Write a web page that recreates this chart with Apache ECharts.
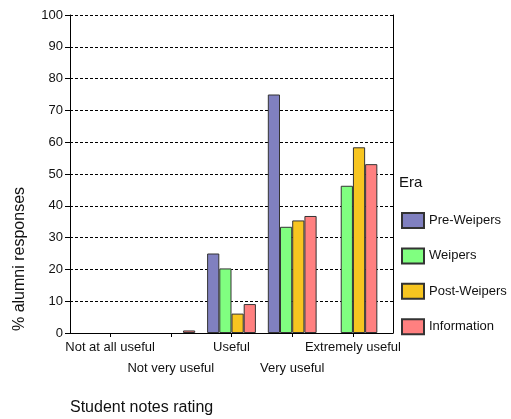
<!DOCTYPE html>
<html>
<head>
<meta charset="utf-8">
<script src="https://cdn.jsdelivr.net/npm/echarts@6/dist/echarts.min.js"></script>
<style>html,body{margin:0;padding:0;background:#fff}#c{width:511px;height:419px}</style>
</head>
<body>
<div id="c"></div>
<script>
const categories = ['Not at all useful', 'Not very useful', 'Useful', 'Very useful', 'Extremely useful'];
const seriesNames = ['Pre-Weipers', 'Weipers', 'Post-Weipers', 'Information'];
const preWeipers = [0, 0, 25, 75, 0];
const weipers = [0, 0, 20.3, 33.4, 46.3];
const postWeipers = [0, 0, 6.1, 35.4, 58.4];
const information = [0, 0.8, 9.1, 36.8, 53.1];
const yTicks = [0, 10, 20, 30, 40, 50, 60, 70, 80, 90, 100];
const colors = ['#8080c0', '#80ff80', '#f7c520', '#ff8080'];

const FONT = 'Liberation Sans, Arial, sans-serif';
const positions = categories.map((c, i) => i + 1);
const oddPositions = positions.filter((p, i) => i % 2 === 0);
const evenPositions = positions.filter((p, i) => i % 2 === 1);
const allValues = [preWeipers, weipers, postWeipers, information];

function xAxisFor(values, margin, showLine) {
  return {
    type: 'value', min: 0.34, max: 5.66, position: 'bottom',
    axisLine: {show: showLine, lineStyle: {color: '#000', width: 1}},
    splitLine: {show: false},
    axisTick: {show: showLine, customValues: positions, length: 4, inside: false, lineStyle: {color: '#000'}},
    axisLabel: {
      customValues: values, margin: margin, fontSize: 13, color: '#111', fontFamily: FONT,
      hideOverlap: false,
      formatter: v => categories[Math.round(v) - 1]
    }
  };
}

const chart = echarts.init(document.getElementById('c'), null, {renderer: 'canvas'});
chart.setOption({
  animation: false,
  backgroundColor: '#fff',
  textStyle: {fontFamily: FONT},
  grid: {left: 70, right: 118, top: 15, bottom: 86},
  title: {
    text: 'Era', left: 399, top: 175, padding: 0,
    textStyle: {fontSize: 15, fontWeight: 'normal', color: '#111', fontFamily: FONT}
  },
  legend: {
    orient: 'vertical', left: 401, top: 212, padding: 0,
    itemWidth: 22, itemHeight: 15, itemGap: 18.4, icon: 'rect',
    textStyle: {fontSize: 13, color: '#111', fontFamily: FONT},
    data: seriesNames
  },
  xAxis: [xAxisFor(oddPositions, 7.5, true), xAxisFor(evenPositions, 28.5, false)],
  yAxis: [{
    type: 'value', min: yTicks[0], max: yTicks[yTicks.length - 1], interval: 10,
    axisLine: {show: true, lineStyle: {color: '#000', width: 1}},
    axisTick: {show: true, length: 5, lineStyle: {color: '#000'}},
    axisLabel: {fontSize: 13, color: '#111', margin: 7, fontFamily: FONT},
    splitLine: {show: true, lineStyle: {color: '#000', type: [3, 2], width: 1}}
  }, {
    type: 'value', min: 0, max: 100, position: 'right',
    axisLine: {show: true, lineStyle: {color: '#000', width: 1}},
    axisTick: {show: false}, axisLabel: {show: false}, splitLine: {show: false}
  }],
  graphic: [{
    type: 'text', x: 20, y: 259, rotation: Math.PI / 2,
    style: {text: '% alumni responses', fontSize: 16, fill: '#111', fontFamily: FONT,
            align: 'center', verticalAlign: 'middle'}
  }, {
    type: 'text', x: 70, y: 408,
    style: {text: 'Student notes rating', fontSize: 16, fill: '#111', fontFamily: FONT,
            align: 'left', verticalAlign: 'middle'}
  }],
  series: seriesNames.map((name, s) => ({
    name, type: 'bar', barWidth: 12.2, barGap: '0%', xAxisIndex: 0,
    itemStyle: {color: colors[s], borderColor: '#333', borderWidth: 1},
    data: positions.map((p, i) => [p, allValues[s][i] === 0 ? '-' : allValues[s][i]])
  }))
});
</script>
</body>
</html>
